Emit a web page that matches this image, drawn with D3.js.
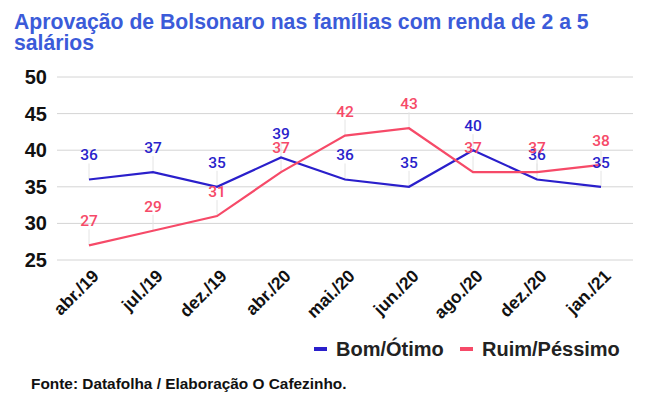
<!DOCTYPE html>
<html>
<head>
<meta charset="utf-8">
<script src="https://cdn.jsdelivr.net/npm/d3@7"></script>
<style>
  body { margin: 0; background: #fff; }
  svg { display: block; }
</style>
</head>
<body>
<div id="chart"></div>
<script>
const months = ["abr./19", "jul./19", "dez./19", "abr./20", "mai./20", "jun./20", "ago./20", "dez./20", "jan./21"];
const bomOtimo = [36, 37, 35, 39, 36, 35, 40, 36, 35];
const ruimPessimo = [27, 29, 31, 37, 42, 43, 37, 37, 38];
const yTicks = [25, 30, 35, 40, 45, 50];

const series = [
    { name: "Bom/Ótimo", values: bomOtimo, color: "#2a1fcb" },
    { name: "Ruim/Péssimo", values: ruimPessimo, color: "#f64a68" }
];

const svgWidth = 645;
const svgHeight = 396;
const margin = { top: 77, right: 12, bottom: 136, left: 57 };
const width = svgWidth - margin.left - margin.right;
const height = svgHeight - margin.top - margin.bottom;

const svg = d3.select("#chart")
    .append("svg")
    .attr("width", svgWidth)
    .attr("height", svgHeight);

// title
svg.append("text")
    .attr("x", 14)
    .attr("y", 29)
    .attr("fill", "#3b5bd9")
    .attr("font-family", "Liberation Sans, Arial, sans-serif")
    .attr("font-weight", "bold")
    .attr("font-size", "21.2px")
    .selectAll("tspan")
    .data(["Aprovação de Bolsonaro nas famílias com renda de 2 a 5", "salários"])
    .enter().append("tspan")
    .attr("x", 14)
    .attr("dy", (d, i) => i === 0 ? 0 : 21)
    .text(d => d);

const g = svg.append("g")
    .attr("transform", `translate(${margin.left},${margin.top})`);

const x = d3.scaleBand()
    .domain(months)
    .range([0, width]);

const y = d3.scaleLinear()
    .domain([25, 50])
    .range([height, 0]);

const cx = d => x(d) + x.bandwidth() / 2;

// grid
g.selectAll(".grid")
    .data(yTicks)
    .enter().append("line")
    .attr("x1", 0)
    .attr("x2", width)
    .attr("y1", d => y(d))
    .attr("y2", d => y(d))
    .attr("stroke", "#d4d4d4")
    .attr("stroke-width", 1);

// y axis labels
const yAxis = g.append("g")
    .call(d3.axisLeft(y).tickValues(yTicks).tickSize(0).tickPadding(10));
yAxis.select(".domain").remove();
yAxis.selectAll("text")
    .attr("fill", "#111")
    .attr("font-family", "Liberation Sans, Arial, sans-serif")
    .attr("font-weight", "bold")
    .attr("font-size", "20px");

// x axis labels
const xAxis = g.append("g")
    .attr("transform", `translate(0,${height})`)
    .call(d3.axisBottom(x).tickSize(0).tickPadding(0));
xAxis.select(".domain").remove();
xAxis.selectAll("text")
    .attr("fill", "#111")
    .attr("font-family", "Liberation Sans, Arial, sans-serif")
    .attr("font-weight", "bold")
    .attr("font-size", "17.5px")
    .attr("text-anchor", "end")
    .attr("dy", "0")
    .attr("transform", "translate(11,17) rotate(-45)");

// leader lines from points to labels
series.forEach(s => {
    g.selectAll(null)
        .data(months)
        .enter().append("line")
        .attr("x1", d => cx(d))
        .attr("x2", d => cx(d))
        .attr("y1", (d, i) => y(s.values[i]))
        .attr("y2", (d, i) => y(s.values[i]) - 16)
        .attr("stroke", "#e4e4e4")
        .attr("stroke-width", 1);
});

// lines
const line = d3.line()
    .x((d, i) => cx(months[i]))
    .y(d => y(d));

series.forEach(s => {
    g.append("path")
        .datum(s.values)
        .attr("fill", "none")
        .attr("stroke", s.color)
        .attr("stroke-width", 2.2)
        .attr("d", line);
});

// value labels
series.forEach(s => {
    g.selectAll(null)
        .data(s.values)
        .enter().append("text")
        .attr("x", (d, i) => cx(months[i]))
        .attr("y", d => y(d) - 19)
        .attr("text-anchor", "middle")
        .attr("fill", s.color)
        .attr("font-family", "Roboto, sans-serif")
        .attr("font-weight", 500)
        .attr("font-size", "15.5px")
        .text(d => d);
});

// legend
const legend = svg.append("g")
    .attr("transform", "translate(314,349)");
const legendPos = [0, 146];
series.forEach((s, i) => {
    legend.append("rect")
        .attr("x", legendPos[i])
        .attr("y", -2)
        .attr("width", 13)
        .attr("height", 4)
        .attr("fill", s.color);
    legend.append("text")
        .attr("x", legendPos[i] + 22)
        .attr("y", 7)
        .attr("fill", "#222")
        .attr("font-family", "Liberation Sans, Arial, sans-serif")
        .attr("font-weight", "bold")
        .attr("font-size", "20px")
        .text(s.name);
});

// source
svg.append("text")
    .attr("x", 31)
    .attr("y", 389)
    .attr("fill", "#111")
    .attr("font-family", "Liberation Sans, Arial, sans-serif")
    .attr("font-weight", "bold")
    .attr("font-size", "15.4px")
    .text("Fonte: Datafolha / Elaboração O Cafezinho.");
</script>
</body>
</html>
